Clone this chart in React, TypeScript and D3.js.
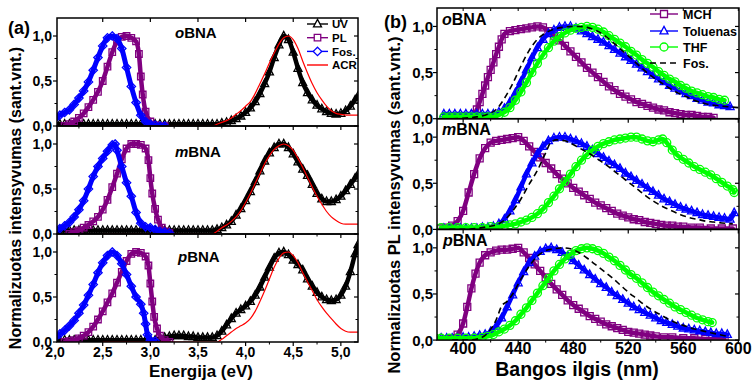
import React from "react";
import * as d3 from "d3";

type Pt = [number, number];

// ---------------- Panel (a) data ----------------
const energyTicks = [2.0, 2.5, 3.0, 3.5, 4.0, 4.5, 5.0];
const yTicks = [0, 0.5, 1.0];
const moleculeLabels = ["o", "m", "p"];

const uvEnergy = [
  2.0, 2.05, 2.1, 2.15, 2.2, 2.25, 2.3, 2.35, 2.4, 2.45, 2.5, 2.55, 2.6, 2.65, 2.7, 2.75, 2.8, 2.85, 2.9, 2.95,
  3.0, 3.05, 3.1, 3.15, 3.2, 3.25, 3.3, 3.35, 3.4, 3.45, 3.5, 3.55, 3.6, 3.65, 3.7, 3.75, 3.8, 3.85, 3.9, 3.95,
  4.0, 4.05, 4.1, 4.15, 4.2, 4.25, 4.3, 4.35, 4.4, 4.45, 4.5, 4.55, 4.6, 4.65, 4.7, 4.75, 4.8, 4.85, 4.9, 4.95,
  5.0, 5.05, 5.1, 5.15, 5.18,
];
const uvO = [
  0.02, 0.02, 0.02, 0.02, 0.02, 0.02, 0.02, 0.02, 0.02, 0.02, 0.02, 0.02, 0.02, 0.02, 0.02, 0.02, 0.02, 0.02, 0.02, 0.02,
  0.02, 0.02, 0.02, 0.02, 0.02, 0.02, 0.02, 0.02, 0.02, 0.02, 0.02, 0.02, 0.02, 0.02, 0.02, 0.03, 0.04, 0.06, 0.08, 0.11,
  0.15, 0.2, 0.27, 0.36, 0.47, 0.6, 0.76, 0.9, 1.0, 0.96, 0.82, 0.64, 0.48, 0.37, 0.29, 0.23, 0.19, 0.16, 0.14, 0.13,
  0.14, 0.17, 0.22, 0.29, 0.33,
];
const uvM = [
  0.04, 0.04, 0.04, 0.04, 0.04, 0.04, 0.04, 0.04, 0.04, 0.04, 0.04, 0.04, 0.04, 0.04, 0.04, 0.04, 0.04, 0.04, 0.04, 0.04,
  0.04, 0.04, 0.04, 0.04, 0.04, 0.04, 0.04, 0.04, 0.04, 0.04, 0.04, 0.04, 0.04, 0.04, 0.05, 0.07, 0.1, 0.14, 0.21, 0.28,
  0.37, 0.47, 0.58, 0.7, 0.81, 0.9, 0.96, 1.0, 1.0, 0.96, 0.89, 0.8, 0.72, 0.65, 0.55, 0.45, 0.39, 0.36, 0.36, 0.38,
  0.42, 0.48, 0.55, 0.62, 0.66,
];
const uvP = [
  0.02, 0.02, 0.02, 0.02, 0.02, 0.02, 0.02, 0.02, 0.02, 0.02, 0.02, 0.02, 0.02, 0.02, 0.02, 0.02, 0.02, 0.02, 0.02, 0.02,
  0.02, 0.02, 0.04, 0.05, 0.06, 0.07, 0.07, 0.07, 0.06, 0.06, 0.05, 0.05, 0.05, 0.05, 0.07, 0.12, 0.19, 0.26, 0.32, 0.36,
  0.4, 0.45, 0.52, 0.61, 0.72, 0.83, 0.93, 0.99, 1.0, 0.97, 0.91, 0.86, 0.8, 0.7, 0.62, 0.55, 0.5, 0.47, 0.46, 0.47,
  0.52, 0.62, 0.78, 0.98, 1.08,
];

const plO: Pt[] = [
  [2.1, 0.0], [2.15, 0.02], [2.2, 0.05], [2.25, 0.09], [2.3, 0.14], [2.35, 0.21], [2.4, 0.29], [2.45, 0.38],
  [2.5, 0.5], [2.55, 0.66], [2.6, 0.82], [2.65, 0.94], [2.7, 0.99], [2.75, 1.0], [2.8, 0.98], [2.85, 0.94],
  [2.88, 0.8], [2.9, 0.55], [2.92, 0.35], [2.95, 0.16], [3.0, 0.05], [3.05, 0.01], [3.1, 0.0], [3.15, 0.0],
];
const plM: Pt[] = [
  [2.15, 0.0], [2.2, 0.02], [2.25, 0.04], [2.3, 0.07], [2.35, 0.1], [2.4, 0.14], [2.45, 0.19], [2.5, 0.27],
  [2.55, 0.38], [2.6, 0.52], [2.65, 0.67], [2.7, 0.83], [2.75, 0.95], [2.8, 1.0], [2.85, 1.0], [2.9, 0.99],
  [2.95, 0.95], [2.98, 0.82], [3.0, 0.62], [3.02, 0.45], [3.05, 0.28], [3.08, 0.16], [3.12, 0.07], [3.16, 0.03], [3.2, 0.01],
];
const plP: Pt[] = [
  [2.1, 0.0], [2.15, 0.01], [2.2, 0.02], [2.25, 0.04], [2.3, 0.07], [2.35, 0.11], [2.4, 0.17], [2.45, 0.25],
  [2.5, 0.34], [2.55, 0.44], [2.6, 0.54], [2.65, 0.66], [2.7, 0.78], [2.75, 0.9], [2.8, 0.98], [2.85, 1.0],
  [2.9, 0.99], [2.95, 0.95], [2.98, 0.85], [3.0, 0.65], [3.02, 0.45], [3.04, 0.28], [3.07, 0.15], [3.1, 0.07],
  [3.15, 0.02], [3.2, 0.0],
];
const fosO: Pt[] = [
  [2.0, 0.08], [2.05, 0.12], [2.1, 0.15], [2.15, 0.18], [2.2, 0.24], [2.25, 0.31], [2.3, 0.39], [2.35, 0.49],
  [2.4, 0.62], [2.45, 0.76], [2.5, 0.89], [2.55, 0.98], [2.6, 1.0], [2.65, 0.97], [2.7, 0.86], [2.75, 0.65],
  [2.8, 0.44], [2.85, 0.26], [2.9, 0.12], [2.95, 0.05], [3.0, 0.02], [3.05, 0.01], [3.1, 0.0], [3.15, 0.0],
];
const fosM: Pt[] = [
  [2.0, 0.04], [2.05, 0.06], [2.1, 0.09], [2.15, 0.13], [2.2, 0.19], [2.25, 0.27], [2.3, 0.37], [2.35, 0.5],
  [2.4, 0.64], [2.45, 0.75], [2.5, 0.84], [2.55, 0.92], [2.6, 0.99], [2.63, 1.0], [2.65, 0.93], [2.7, 0.75],
  [2.75, 0.57], [2.8, 0.42], [2.85, 0.24], [2.9, 0.12], [2.95, 0.08], [3.0, 0.07], [3.05, 0.05], [3.1, 0.03],
  [3.15, 0.02], [3.2, 0.01],
];
const fosP: Pt[] = [
  [2.0, 0.05], [2.05, 0.09], [2.1, 0.13], [2.15, 0.18], [2.2, 0.24], [2.25, 0.32], [2.3, 0.41], [2.35, 0.52],
  [2.4, 0.64], [2.45, 0.77], [2.5, 0.88], [2.55, 0.96], [2.6, 1.0], [2.65, 0.96], [2.7, 0.87], [2.75, 0.75],
  [2.8, 0.62], [2.85, 0.5], [2.9, 0.42], [2.93, 0.32], [2.95, 0.2], [2.97, 0.08], [3.0, 0.02], [3.05, 0.01],
];
const acrO: Pt[] = [
  [2.5, 0], [3.0, 0], [3.5, 0], [3.65, 0], [3.7, 0.02], [3.75, 0.04], [3.8, 0.06], [3.85, 0.09], [3.9, 0.13],
  [3.95, 0.17], [4.0, 0.22], [4.05, 0.27], [4.1, 0.36], [4.15, 0.47], [4.2, 0.58], [4.25, 0.7], [4.3, 0.81],
  [4.35, 0.91], [4.4, 0.98], [4.45, 1.0], [4.5, 0.96], [4.55, 0.86], [4.6, 0.72], [4.65, 0.59], [4.7, 0.47],
  [4.75, 0.37], [4.8, 0.29], [4.85, 0.22], [4.9, 0.17], [4.95, 0.14], [5.0, 0.13], [5.1, 0.12], [5.18, 0.12],
];
const acrM: Pt[] = [
  [2.5, 0], [3.0, 0], [3.5, 0], [3.65, 0], [3.7, 0.03], [3.75, 0.07], [3.8, 0.1], [3.85, 0.14], [3.9, 0.19],
  [3.95, 0.26], [4.0, 0.35], [4.05, 0.45], [4.1, 0.56], [4.15, 0.67], [4.2, 0.78], [4.25, 0.87], [4.3, 0.94],
  [4.35, 0.98], [4.4, 1.0], [4.45, 0.98], [4.5, 0.93], [4.55, 0.84], [4.6, 0.74], [4.65, 0.63], [4.7, 0.52],
  [4.75, 0.42], [4.8, 0.33], [4.85, 0.25], [4.9, 0.19], [4.95, 0.15], [5.0, 0.12], [5.05, 0.11], [5.18, 0.11],
];
const acrP: Pt[] = [
  [2.5, 0], [3.0, 0], [3.5, 0], [3.7, 0], [3.75, 0.03], [3.8, 0.07], [3.85, 0.11], [3.9, 0.15], [3.95, 0.18],
  [4.0, 0.21], [4.05, 0.26], [4.1, 0.34], [4.15, 0.45], [4.2, 0.57], [4.25, 0.7], [4.3, 0.83], [4.35, 0.93],
  [4.4, 0.99], [4.45, 1.0], [4.5, 0.96], [4.55, 0.88], [4.6, 0.77], [4.65, 0.67], [4.7, 0.57], [4.75, 0.47],
  [4.8, 0.39], [4.85, 0.32], [4.9, 0.26], [4.95, 0.2], [5.0, 0.15], [5.05, 0.12], [5.1, 0.11], [5.18, 0.11],
];

// ---------------- Panel (b) data ----------------
const wavelengthTicks = [400, 440, 480, 520, 560, 600];

const mchO: Pt[] = [
  [404, 0.02], [408, 0.05], [410, 0.1], [412, 0.18], [414, 0.27], [416, 0.36], [418, 0.45], [420, 0.53], [422, 0.61],
  [424, 0.7], [426, 0.78], [428, 0.86], [430, 0.92], [434, 0.95], [438, 0.96], [442, 0.97], [446, 0.98], [450, 0.99],
  [454, 1.0], [458, 0.99], [462, 0.95], [466, 0.9], [470, 0.85], [474, 0.79], [478, 0.73], [482, 0.67], [486, 0.61],
  [490, 0.55], [494, 0.5], [498, 0.45], [502, 0.4], [506, 0.35], [510, 0.31], [514, 0.27], [518, 0.24], [522, 0.21],
  [526, 0.18], [530, 0.16], [534, 0.14], [538, 0.12], [542, 0.1], [546, 0.09], [550, 0.07], [554, 0.06], [558, 0.05],
  [562, 0.04], [566, 0.04], [570, 0.03], [574, 0.02], [578, 0.02], [582, 0.01],
];
const tolO: Pt[] = [
  [386, 0.05], [390, 0.05], [394, 0.05], [398, 0.05], [402, 0.05], [406, 0.05], [410, 0.05], [414, 0.05], [418, 0.05],
  [422, 0.05], [426, 0.07], [430, 0.11], [434, 0.18], [438, 0.28], [442, 0.4], [446, 0.53], [450, 0.66], [454, 0.77],
  [458, 0.86], [462, 0.92], [466, 0.96], [470, 0.99], [474, 1.0], [478, 1.0], [482, 0.98], [486, 0.95], [490, 0.92],
  [494, 0.89], [498, 0.86], [502, 0.83], [506, 0.79], [510, 0.75], [514, 0.71], [518, 0.67], [522, 0.63], [526, 0.59],
  [530, 0.55], [534, 0.51], [538, 0.47], [542, 0.43], [546, 0.4], [550, 0.36], [554, 0.33], [558, 0.3], [562, 0.27],
  [566, 0.25], [570, 0.22], [574, 0.2], [578, 0.18], [582, 0.17], [586, 0.15], [590, 0.14], [594, 0.13],
];
const thfO: Pt[] = [
  [386, 0.02], [390, 0.02], [394, 0.02], [398, 0.02], [402, 0.02], [406, 0.02], [410, 0.02], [414, 0.02], [418, 0.02],
  [422, 0.02], [426, 0.04], [430, 0.07], [434, 0.12], [438, 0.2], [442, 0.29], [446, 0.39], [450, 0.5], [454, 0.6],
  [458, 0.69], [462, 0.77], [466, 0.84], [470, 0.89], [474, 0.93], [478, 0.96], [482, 0.98], [486, 0.99], [490, 1.0],
  [494, 0.99], [498, 0.97], [502, 0.94], [506, 0.9], [510, 0.86], [514, 0.82], [518, 0.78], [522, 0.73], [526, 0.69],
  [530, 0.64], [534, 0.6], [538, 0.56], [542, 0.51], [546, 0.47], [550, 0.43], [554, 0.4], [558, 0.36], [562, 0.33],
  [566, 0.3], [570, 0.28], [574, 0.26], [578, 0.24], [582, 0.23], [586, 0.21], [590, 0.2],
];
const fosBO: Pt[] = [
  [392, 0.0], [410, 0.02], [418, 0.05], [424, 0.1], [430, 0.22], [436, 0.38], [442, 0.57], [448, 0.74], [454, 0.86],
  [460, 0.93], [466, 0.97], [472, 0.99], [478, 1.0], [484, 1.0], [490, 0.99], [496, 0.96], [502, 0.91], [508, 0.84],
  [514, 0.76], [520, 0.68], [526, 0.6], [532, 0.52], [538, 0.45], [544, 0.39], [550, 0.33], [556, 0.28], [562, 0.24],
  [568, 0.2], [574, 0.17], [580, 0.15], [586, 0.14], [592, 0.13], [600, 0.12],
];

const mchM: Pt[] = [
  [384, 0.01], [388, 0.02], [392, 0.04], [396, 0.09], [400, 0.2], [404, 0.4], [408, 0.6], [412, 0.77], [416, 0.88],
  [420, 0.94], [424, 0.96], [428, 0.97], [432, 0.98], [436, 0.99], [440, 1.0], [444, 0.96], [448, 0.9], [452, 0.84],
  [456, 0.78], [460, 0.72], [464, 0.66], [468, 0.6], [472, 0.55], [476, 0.5], [480, 0.45], [484, 0.41], [488, 0.37],
  [492, 0.33], [496, 0.29], [500, 0.26], [504, 0.23], [508, 0.2], [512, 0.17], [516, 0.15], [520, 0.13], [524, 0.11],
  [528, 0.1], [532, 0.08], [536, 0.07], [540, 0.06], [544, 0.05], [548, 0.04], [552, 0.04], [556, 0.03], [560, 0.03],
  [566, 0.02], [572, 0.02], [580, 0.01], [588, 0.01], [596, 0.01],
];
const tolM: Pt[] = [
  [386, 0.01], [390, 0.01], [394, 0.01], [398, 0.01], [402, 0.01], [406, 0.01], [410, 0.01], [414, 0.02], [418, 0.02],
  [422, 0.03], [426, 0.06], [430, 0.11], [434, 0.2], [438, 0.32], [442, 0.46], [446, 0.6], [450, 0.72], [454, 0.82],
  [458, 0.9], [462, 0.96], [466, 0.99], [470, 1.0], [474, 1.0], [478, 0.98], [482, 0.96], [486, 0.93], [490, 0.9],
  [494, 0.86], [498, 0.82], [502, 0.78], [506, 0.74], [510, 0.7], [514, 0.66], [518, 0.61], [522, 0.57], [526, 0.53],
  [530, 0.49], [534, 0.45], [538, 0.41], [542, 0.37], [546, 0.33], [550, 0.3], [554, 0.27], [558, 0.24], [562, 0.22],
  [566, 0.2], [570, 0.18], [574, 0.16], [578, 0.15], [582, 0.14], [586, 0.13], [590, 0.12], [594, 0.11], [597, 0.18],
];
const thfM: Pt[] = [
  [384, 0.02], [390, 0.02], [396, 0.02], [402, 0.02], [408, 0.02], [414, 0.02], [420, 0.03], [426, 0.03], [430, 0.04],
  [434, 0.05], [438, 0.06], [442, 0.08], [446, 0.1], [450, 0.13], [454, 0.17], [458, 0.22], [462, 0.29], [466, 0.36],
  [470, 0.44], [474, 0.52], [478, 0.6], [482, 0.68], [486, 0.75], [490, 0.81], [494, 0.86], [498, 0.9], [502, 0.93],
  [506, 0.95], [510, 0.97], [514, 0.98], [518, 0.99], [522, 1.0], [526, 1.0], [530, 0.98], [534, 0.96], [538, 0.95],
  [542, 0.97], [545, 0.98], [548, 0.94], [552, 0.86], [556, 0.8], [560, 0.76], [564, 0.72], [568, 0.68], [572, 0.65],
  [576, 0.62], [580, 0.59], [584, 0.55], [588, 0.51], [592, 0.47], [596, 0.43], [597, 0.4],
];
const fosBM: Pt[] = [
  [390, 0.0], [400, 0.0], [410, 0.01], [418, 0.03], [424, 0.05], [430, 0.1], [436, 0.2], [442, 0.33], [448, 0.49],
  [454, 0.64], [460, 0.83], [464, 0.95], [468, 0.97], [474, 0.96], [480, 0.92], [486, 0.87], [492, 0.82], [498, 0.76],
  [504, 0.7], [510, 0.63], [516, 0.56], [522, 0.49], [528, 0.42], [534, 0.35], [540, 0.29], [546, 0.24], [552, 0.2],
  [558, 0.16], [564, 0.13], [570, 0.11], [576, 0.09], [582, 0.08], [588, 0.07], [596, 0.06],
];

const mchP: Pt[] = [
  [388, 0.01], [392, 0.02], [396, 0.06], [400, 0.18], [403, 0.36], [406, 0.56], [409, 0.72], [412, 0.84], [416, 0.92],
  [420, 0.95], [424, 0.97], [428, 0.98], [432, 0.98], [436, 0.99], [440, 1.0], [444, 0.95], [448, 0.89], [452, 0.82],
  [456, 0.75], [460, 0.68], [464, 0.61], [468, 0.55], [472, 0.49], [476, 0.43], [480, 0.38], [484, 0.34], [488, 0.3],
  [492, 0.26], [496, 0.23], [500, 0.2], [504, 0.17], [508, 0.15], [512, 0.13], [516, 0.11], [520, 0.09], [524, 0.08],
  [528, 0.07], [532, 0.06], [536, 0.05], [540, 0.04], [546, 0.03], [552, 0.03], [560, 0.02], [568, 0.02], [576, 0.01],
  [584, 0.01], [590, 0.01],
];
const tolP: Pt[] = [
  [384, 0.02], [388, 0.02], [392, 0.02], [396, 0.02], [400, 0.03], [404, 0.03], [408, 0.04], [412, 0.05], [416, 0.06],
  [420, 0.09], [424, 0.15], [428, 0.24], [432, 0.36], [436, 0.49], [440, 0.62], [444, 0.74], [448, 0.84], [452, 0.91],
  [456, 0.96], [460, 0.99], [464, 1.0], [468, 0.98], [472, 0.95], [476, 0.91], [480, 0.86], [484, 0.81], [488, 0.76],
  [492, 0.71], [496, 0.66], [500, 0.61], [504, 0.57], [508, 0.52], [512, 0.48], [516, 0.44], [520, 0.4], [524, 0.36],
  [528, 0.33], [532, 0.3], [536, 0.27], [540, 0.24], [544, 0.21], [548, 0.19], [552, 0.17], [556, 0.15], [560, 0.13],
  [564, 0.12], [568, 0.11], [572, 0.1], [576, 0.09], [580, 0.08], [584, 0.07], [588, 0.07], [592, 0.06],
];
const thfP: Pt[] = [
  [380, 0.02], [384, 0.02], [390, 0.02], [396, 0.02], [402, 0.02], [408, 0.02], [414, 0.03], [418, 0.04], [422, 0.06],
  [426, 0.09], [430, 0.12], [434, 0.16], [438, 0.21], [442, 0.28], [446, 0.35], [450, 0.43], [454, 0.51], [458, 0.59],
  [462, 0.67], [466, 0.75], [470, 0.82], [474, 0.88], [478, 0.93], [482, 0.97], [486, 0.99], [490, 1.0], [494, 0.99],
  [498, 0.97], [502, 0.94], [506, 0.9], [510, 0.86], [514, 0.81], [518, 0.76], [522, 0.71], [526, 0.67], [530, 0.62],
  [534, 0.57], [538, 0.52], [542, 0.48], [546, 0.44], [550, 0.4], [554, 0.36], [558, 0.33], [562, 0.3], [566, 0.27],
  [570, 0.24], [574, 0.22], [578, 0.2], [581, 0.19],
];
const fosBP: Pt[] = [
  [392, 0.0], [404, 0.0], [412, 0.02], [418, 0.08], [424, 0.22], [428, 0.37], [432, 0.42], [436, 0.5], [442, 0.66],
  [448, 0.8], [454, 0.91], [460, 0.97], [466, 0.99], [472, 1.0], [478, 0.99], [484, 0.95], [490, 0.89], [496, 0.82],
  [502, 0.75], [508, 0.68], [514, 0.6], [520, 0.52], [526, 0.45], [532, 0.38], [538, 0.32], [544, 0.27], [550, 0.22],
  [556, 0.18], [562, 0.15], [568, 0.12], [574, 0.1], [580, 0.08], [586, 0.06], [592, 0.04],
];

// ---------------- styling ----------------
const FONT = "'Liberation Sans', Arial, Helvetica, sans-serif";
const C_BLACK = "#000000";
const C_PURPLE = "#800080";
const C_BLUE = "#0000ff";
const C_RED = "#ff0000";
const C_GREEN = "#00ff00";

type Shape = "square" | "triangle" | "diamond" | "circle";

function shapePath(shape: Shape, s: number): string {
  const h = s / 2;
  if (shape === "square") return `M${-h},${-h}h${s}v${s}h${-s}Z`;
  if (shape === "triangle") return `M0,${-s * 0.58}L${h},${s * 0.36}L${-h},${s * 0.36}Z`;
  if (shape === "diamond") return `M0,${-s * 0.6}L${s * 0.6},0L0,${s * 0.6}L${-s * 0.6},0Z`;
  return d3.symbol(d3.symbolCircle, Math.PI * h * h)() as string;
}

const fmt = (v: number) => v.toFixed(1).replace(".", ",");

interface SeriesProps {
  data: Pt[];
  x: d3.ScaleLinear<number, number>;
  y: d3.ScaleLinear<number, number>;
  color: string;
  shape: Shape;
  size: number;
  band: number;
}

function MarkerSeries({ data, x, y, color, shape, size, band }: SeriesProps) {
  const line = d3
    .line<Pt>()
    .x((d) => x(d[0]))
    .y((d) => y(d[1]))
    .curve(d3.curveMonotoneX);
  const p = shapePath(shape, size);
  return (
    <g>
      <path d={line(data) || ""} fill="none" stroke={color} strokeWidth={band} strokeLinejoin="round" strokeLinecap="round" />
      {data.map((d, i) => (
        <path key={i} d={p} transform={`translate(${x(d[0])},${y(d[1])})`} fill="none" stroke={color} strokeWidth={1.3} />
      ))}
    </g>
  );
}

function PlainLine({ data, x, y, color, width, dash }: { data: Pt[]; x: any; y: any; color: string; width: number; dash?: string }) {
  const line = d3
    .line<Pt>()
    .x((d) => x(d[0]))
    .y((d) => y(d[1]))
    .curve(d3.curveMonotoneX);
  return <path d={line(data) || ""} fill="none" stroke={color} strokeWidth={width} strokeDasharray={dash} />;
}

function MolLabel({ x, y, prefix, size }: { x: number; y: number; prefix: string; size: number }) {
  return (
    <text x={x} y={y} fontFamily={FONT} fontWeight="bold" fontSize={size}>
      <tspan fontStyle="italic">{prefix}</tspan>
      BNA
    </text>
  );
}

// Layout
const A = { left: 57, right: 358, tops: [18, 126, 234], h: 108 };
const B = { left: 437, right: 739, tops: [8, 118.7, 229.4], h: 110.7 };

export default function App() {
  const xa = d3.scaleLinear().domain([2.02, 5.18]).range([A.left, A.right]);
  const xb = d3.scaleLinear().domain([381, 600.5]).range([B.left, B.right]);

  const uvSeries = [uvO, uvM, uvP].map((vals) => vals.map((v, i) => [uvEnergy[i], v] as Pt));
  const plSeries = [plO, plM, plP];
  const fosSeries = [fosO, fosM, fosP];
  const acrSeries = [acrO, acrM, acrP];
  const mchSeries = [mchO, mchM, mchP];
  const tolSeries = [tolO, tolM, tolP];
  const thfSeries = [thfO, thfM, thfP];
  const fosBSeries = [fosBO, fosBM, fosBP];

  const aLabelPos = [
    [175, 38],
    [175, 157],
    [178, 262],
  ];
  const bLabelPos = [
    [442, 25],
    [442, 135],
    [443, 246],
  ];

  const minorE = d3.range(2.25, 5.18, 0.5);
  const minorW = d3.range(420, 600, 40);
  const minorY = [0.25, 0.75];

  const renderPanelA = (k: number) => {
    const top = A.tops[k];
    const bottom = top + A.h;
    const y = d3.scaleLinear().domain([0, 1.2]).range([bottom, top]);
    const clipId = `clipA${k}`;
    return (
      <g key={`a${k}`}>
        <defs>
          <clipPath id={clipId}>
            <rect x={A.left} y={top} width={A.right - A.left} height={A.h} />
          </clipPath>
        </defs>
        <g clipPath={`url(#${clipId})`}>
          <MarkerSeries data={uvSeries[k]} x={xa} y={y} color={C_BLACK} shape="triangle" size={8} band={4.5} />
          <MarkerSeries data={plSeries[k]} x={xa} y={y} color={C_PURPLE} shape="square" size={6.5} band={4.5} />
          <MarkerSeries data={fosSeries[k]} x={xa} y={y} color={C_BLUE} shape="diamond" size={7} band={5} />
          <PlainLine data={acrSeries[k]} x={xa} y={y} color={C_RED} width={1.2} />
        </g>
        <rect x={A.left} y={top} width={A.right - A.left} height={A.h} fill="none" stroke="#000" strokeWidth={1.5} />
        {energyTicks.map((t) =>
          xa(t) >= A.left ? <line key={`ma${t}`} x1={xa(t)} x2={xa(t)} y1={bottom} y2={bottom + 4} stroke="#000" strokeWidth={1.2} /> : null
        )}
        {minorE.map((t) => (
          <line key={`mia${t}`} x1={xa(t)} x2={xa(t)} y1={bottom} y2={bottom + 2.5} stroke="#000" strokeWidth={1} />
        ))}
        {k === 0 &&
          energyTicks.map((t) =>
            xa(t) >= A.left ? <line key={`ta${t}`} x1={xa(t)} x2={xa(t)} y1={top} y2={top + 4} stroke="#000" strokeWidth={1.2} /> : null
          )}
        {yTicks.map((t) => (
          <g key={`ya${t}`}>
            <line x1={A.left - 4} x2={A.left} y1={y(t)} y2={y(t)} stroke="#000" strokeWidth={1.2} />
            <line x1={A.right - 4} x2={A.right} y1={y(t)} y2={y(t)} stroke="#000" strokeWidth={1.2} />
            <text x={A.left - 5} y={y(t)} dy="0.36em" textAnchor="end" fontFamily={FONT} fontWeight="bold" fontSize={14}>
              {fmt(t)}
            </text>
          </g>
        ))}
        {minorY.map((t) => (
          <g key={`mya${t}`}>
            <line x1={A.left - 2.5} x2={A.left} y1={y(t)} y2={y(t)} stroke="#000" strokeWidth={1} />
            <line x1={A.right - 2.5} x2={A.right} y1={y(t)} y2={y(t)} stroke="#000" strokeWidth={1} />
          </g>
        ))}
        <MolLabel x={aLabelPos[k][0]} y={aLabelPos[k][1]} prefix={moleculeLabels[k]} size={15} />
      </g>
    );
  };

  const renderPanelB = (k: number) => {
    const top = B.tops[k];
    const bottom = top + B.h;
    const y = d3.scaleLinear().domain([0, 1.2]).range([bottom, top]);
    const clipId = `clipB${k}`;
    return (
      <g key={`b${k}`}>
        <defs>
          <clipPath id={clipId}>
            <rect x={B.left} y={top} width={B.right - B.left} height={B.h} />
          </clipPath>
        </defs>
        <g clipPath={`url(#${clipId})`}>
          <MarkerSeries data={mchSeries[k]} x={xb} y={y} color={C_PURPLE} shape="square" size={7} band={4.5} />
          <MarkerSeries data={tolSeries[k]} x={xb} y={y} color={C_BLUE} shape="triangle" size={8} band={4.5} />
          <MarkerSeries data={thfSeries[k]} x={xb} y={y} color={C_GREEN} shape="circle" size={8} band={4.5} />
          <PlainLine data={fosBSeries[k]} x={xb} y={y} color={C_BLACK} width={1.6} dash="6,4" />
        </g>
        <rect x={B.left} y={top} width={B.right - B.left} height={B.h} fill="none" stroke="#000" strokeWidth={1.5} />
        {wavelengthTicks.map((t) => (
          <line key={`mb${t}`} x1={xb(t)} x2={xb(t)} y1={bottom} y2={bottom + 4} stroke="#000" strokeWidth={1.2} />
        ))}
        {minorW.map((t) => (
          <line key={`mib${t}`} x1={xb(t)} x2={xb(t)} y1={bottom} y2={bottom + 2.5} stroke="#000" strokeWidth={1} />
        ))}
        {k === 0 &&
          [...wavelengthTicks, ...minorW].map((t) => (
            <line key={`tb${t}`} x1={xb(t)} x2={xb(t)} y1={top} y2={top + 3} stroke="#000" strokeWidth={1} />
          ))}
        {yTicks.map((t) => (
          <g key={`yb${t}`}>
            <line x1={B.left - 4} x2={B.left} y1={y(t)} y2={y(t)} stroke="#000" strokeWidth={1.2} />
            <line x1={B.right - 4} x2={B.right} y1={y(t)} y2={y(t)} stroke="#000" strokeWidth={1.2} />
            <text x={B.left - 4} y={y(t)} dy="0.36em" textAnchor="end" fontFamily={FONT} fontWeight="bold" fontSize={15}>
              {fmt(t)}
            </text>
          </g>
        ))}
        {minorY.map((t) => (
          <g key={`myb${t}`}>
            <line x1={B.left - 2.5} x2={B.left} y1={y(t)} y2={y(t)} stroke="#000" strokeWidth={1} />
            <line x1={B.right - 2.5} x2={B.right} y1={y(t)} y2={y(t)} stroke="#000" strokeWidth={1} />
          </g>
        ))}
        <MolLabel x={bLabelPos[k][0]} y={bLabelPos[k][1]} prefix={moleculeLabels[k]} size={16} />
      </g>
    );
  };

  const legendA = [
    { label: "UV", color: C_BLACK, shape: "triangle" as Shape, size: 8 },
    { label: "PL", color: C_PURPLE, shape: "square" as Shape, size: 6.5 },
    { label: "Fos.", color: C_BLUE, shape: "diamond" as Shape, size: 7 },
    { label: "ACR", color: C_RED, shape: null, size: 0 },
  ];
  const legendAY = [24, 37.7, 51.4, 65];
  const legendB = [
    { label: "MCH", color: C_PURPLE, shape: "square" as Shape, size: 7, dash: undefined },
    { label: "Toluenas", color: C_BLUE, shape: "triangle" as Shape, size: 8, dash: undefined },
    { label: "THF", color: C_GREEN, shape: "circle" as Shape, size: 8, dash: undefined },
    { label: "Fos.", color: C_BLACK, shape: null, size: 0, dash: "6,4" },
  ];
  const legendBY = [14, 31, 47, 63];

  return (
    <svg width={754} height={381} viewBox="0 0 754 381" style={{ display: "block", position: "absolute", left: 0, top: 0, background: "#fff" }}>
      <rect x={0} y={0} width={754} height={381} fill="#fff" />
      {[0, 1, 2].map(renderPanelA)}
      {[0, 1, 2].map(renderPanelB)}

      {energyTicks.map((t) => (
        <text key={`la${t}`} x={xa(t)} y={357} textAnchor="middle" fontFamily={FONT} fontWeight="bold" fontSize={14}>
          {fmt(t)}
        </text>
      ))}
      {wavelengthTicks.map((t) => (
        <text key={`lb${t}`} x={xb(t)} y={353.5} textAnchor="middle" fontFamily={FONT} fontWeight="bold" fontSize={16}>
          {t}
        </text>
      ))}

      {legendA.map((l, i) => (
        <g key={`lga${i}`}>
          <line x1={307} x2={328} y1={legendAY[i]} y2={legendAY[i]} stroke={l.color} strokeWidth={1.4} />
          {l.shape && (
            <path d={shapePath(l.shape, l.size)} transform={`translate(317.5,${legendAY[i]})`} fill="#fff" stroke={l.color} strokeWidth={1.3} />
          )}
          <text x={332} y={legendAY[i]} dy="0.36em" fontFamily={FONT} fontWeight="bold" fontSize={11.5}>
            {l.label}
          </text>
        </g>
      ))}
      {legendB.map((l, i) => (
        <g key={`lgb${i}`}>
          <line x1={650} x2={678} y1={legendBY[i]} y2={legendBY[i]} stroke={l.color} strokeWidth={1.4} strokeDasharray={l.dash} />
          {l.shape && (
            <path d={shapePath(l.shape, l.size)} transform={`translate(664,${legendBY[i]})`} fill="#fff" stroke={l.color} strokeWidth={1.3} />
          )}
          <text x={683} y={legendBY[i]} dy="0.36em" fontFamily={FONT} fontWeight="bold" fontSize={12.5}>
            {l.label}
          </text>
        </g>
      ))}

      <text x={8} y={34} fontFamily={FONT} fontWeight="bold" fontSize={18}>(a)</text>
      <text x={384} y={28} fontFamily={FONT} fontWeight="bold" fontSize={18}>(b)</text>
      <text x={201} y={376.5} textAnchor="middle" fontFamily={FONT} fontWeight="bold" fontSize={17}>
        Energija (eV)
      </text>
      <text x={577} y={376} textAnchor="middle" fontFamily={FONT} fontWeight="bold" fontSize={19.5}>
        Bangos ilgis (nm)
      </text>
      <text transform="translate(21,198) rotate(-90)" textAnchor="middle" fontFamily={FONT} fontWeight="bold" fontSize={16}>
        Normalizuotas intensyvumas (sant.vnt.)
      </text>
      <text transform="translate(400,205) rotate(-90)" textAnchor="middle" fontFamily={FONT} fontWeight="bold" fontSize={16.5}>
        Normalizuotas PL intensyvumas (sant.vnt.)
      </text>
    </svg>
  );
}
